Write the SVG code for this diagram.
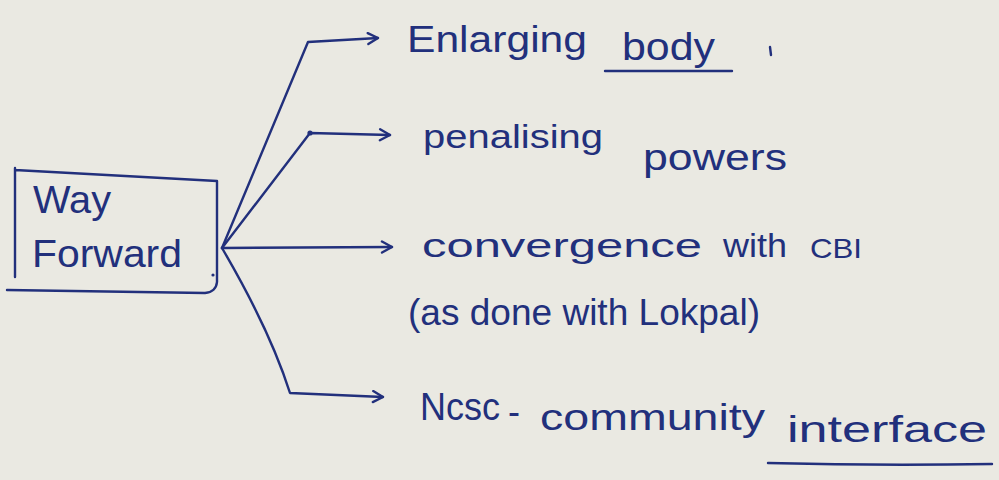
<svg xmlns="http://www.w3.org/2000/svg" width="999" height="480" viewBox="0 0 999 480">
  <defs>
    <marker id="head" viewBox="0 0 14 14" refX="12" refY="7" markerWidth="14" markerHeight="14" markerUnits="userSpaceOnUse" orient="auto">
      <path d="M2,1.5 L12,7 L2,12.5" fill="none" stroke="#22307c" stroke-width="2.4" stroke-linecap="round" stroke-linejoin="round"/>
    </marker>
  </defs>
  <style>
    .ink { fill: none; stroke: #22307c; stroke-width: 2.4; stroke-linecap: round; stroke-linejoin: round; }
    .arrow { marker-end: url(#head); }
    .hand { font-family: "Liberation Sans", "DejaVu Sans", sans-serif; fill: #22307c; }
  </style>

  <!-- paper -->
  <rect width="999" height="480" fill="#eae9e2"/>

  <!-- source node -->
  <g id="way-forward">
    <path class="ink" d="M15,277 L15,168 M15,170 L217,181 L217,282 Q216,292 205,293 L7,290"/>
    <circle cx="213" cy="275" r="1.6" fill="#22307c"/>
    <text class="hand" x="33" y="213" font-size="38" textLength="78" lengthAdjust="spacingAndGlyphs">Way</text>
    <text class="hand" x="32" y="267" font-size="38" textLength="150" lengthAdjust="spacingAndGlyphs">Forward</text>
  </g>

  <!-- connectors -->
  <g id="connectors">
    <path class="ink arrow" d="M222,248 L308,42 L378,38"/>
    <path class="ink arrow" d="M222,248 L310,133 L390,135"/>
    <circle cx="310" cy="133" r="2.6" fill="#22307c"/>
    <path class="ink arrow" d="M222,248 L392,247"/>
    <path class="ink arrow" d="M222,248 Q270,330 290,393 L383,397"/>
  </g>

  <g id="enlarging-body">
    <text class="hand" x="407" y="52" font-size="36" textLength="180" lengthAdjust="spacingAndGlyphs">Enlarging</text>
    <text class="hand" x="622" y="60" font-size="38" textLength="93" lengthAdjust="spacingAndGlyphs">body</text>
    <path class="ink" d="M605,71 L732,71"/>
    <path class="ink" d="M770,47 L771,55"/>
  </g>

  <g id="penalising-powers">
    <text class="hand" x="423" y="148" font-size="33" textLength="180" lengthAdjust="spacingAndGlyphs">penalising</text>
    <text class="hand" x="643" y="170" font-size="36" textLength="144" lengthAdjust="spacingAndGlyphs">powers</text>
  </g>

  <g id="convergence-cbi">
    <text class="hand" x="422" y="257" font-size="34" textLength="280" lengthAdjust="spacingAndGlyphs">convergence</text>
    <text class="hand" x="723" y="257" font-size="34" textLength="64" lengthAdjust="spacingAndGlyphs">with</text>
    <text class="hand" x="810" y="258" font-size="28" textLength="52" lengthAdjust="spacingAndGlyphs">CBI</text>
    <text class="hand" x="408" y="325" font-size="36" textLength="352" lengthAdjust="spacingAndGlyphs">(as done with Lokpal)</text>
  </g>

  <g id="ncsc-community">
    <text class="hand" x="420" y="420" font-size="38" textLength="80" lengthAdjust="spacingAndGlyphs">Ncsc</text>
    <text class="hand" x="508" y="424" font-size="36">-</text>
    <text class="hand" x="540" y="430" font-size="36" textLength="225" lengthAdjust="spacingAndGlyphs">community</text>
    <text class="hand" x="787" y="442" font-size="36" textLength="200" lengthAdjust="spacingAndGlyphs">interface</text>
    <path class="ink" d="M768,463 Q880,466 992,464"/>
  </g>
</svg>
